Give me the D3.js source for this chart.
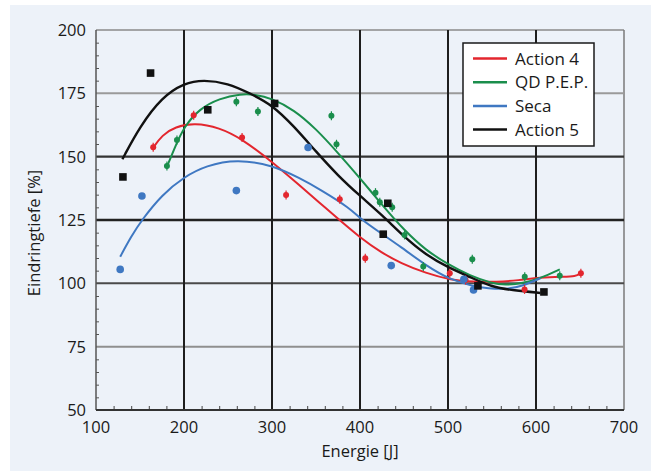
<!DOCTYPE html>
<html>
<head>
<meta charset="utf-8">
<script src="https://cdn.jsdelivr.net/npm/d3@7/dist/d3.min.js"></script>
<style>
  html, body { margin: 0; padding: 0; background: #ffffff; }
  svg { display: block; }
  text { font-family: "Open Sans", "DejaVu Sans", sans-serif; fill: #1a1a1a; }
</style>
</head>
<body>
<svg id="chart" width="651" height="473"></svg>
<script>
// ---------- data ----------
const xTicks = [100, 200, 300, 400, 500, 600, 700];
const yTicks = [50, 75, 100, 125, 150, 175, 200];
const seriesNames = ["Action 4", "QD P.E.P.", "Seca", "Action 5"];

// measured points
const action4X = [165, 211, 266, 316, 377, 406, 502, 520, 587, 651];
const action4Y = [153.7, 166.3, 157.6, 134.9, 133.2, 109.9, 104, 101.3, 97.6, 104];
const qdpepX = [180.6, 192, 259.5, 284, 367.5, 373.3, 417.6, 422.5, 436.6, 450.6, 471.9, 527.6, 587.2, 627];
const qdpepY = [146.3, 156.6, 171.7, 167.8, 166.2, 154.9, 135.8, 132, 130, 119.1, 106.6, 109.5, 102.6, 103];
const secaX = [127.5, 152.2, 259.5, 341, 435.5, 518, 529];
const secaY = [105.5, 134.5, 136.6, 153.6, 107, 101.6, 97.4];
const action5X = [130.6, 162, 227, 303, 426.4, 431.6, 534, 609];
const action5Y = [142, 183, 168.5, 171, 119.4, 131.6, 99, 96.6];

// trend lines (sampled from the reference curves)
const action4FitX = [165, 175, 190, 212, 240, 266, 300, 332, 355, 370, 400, 425, 446, 475, 503, 530, 555, 580, 605, 630, 645, 651];
const action4FitY = [153.5, 158.5, 161.8, 163.3, 161.5, 157, 148, 138.5, 131.5, 127, 118, 112, 108, 104, 101.3, 100.6, 100.5, 101.2, 102.3, 102.6, 102.7, 104];
const qdpepFitX = [180, 190, 200, 218, 240, 265, 280, 300, 325, 350, 375, 400, 425, 450, 475, 500, 525, 550, 565, 585, 605, 627];
const qdpepFitY = [145.5, 154, 161.8, 169, 173, 174.8, 174.6, 173, 168.5, 161, 151.5, 141.5, 131, 121, 113, 107.5, 103, 100, 99.3, 100, 102, 105.5];
const secaFitX = [127.5, 140, 152, 175, 200, 225, 260, 300, 332, 355, 389, 400, 425, 446, 475, 503, 530, 545, 567, 585, 605];
const secaFitY = [110.5, 118.5, 125, 135, 142, 146.5, 149, 146.7, 141.5, 137, 129.6, 125.5, 119.5, 114.5, 107, 101.3, 98.8, 98, 97.6, 99, 102];
const action5FitX = [130, 150, 175, 200, 222, 250, 275, 300, 325, 350, 375, 400, 425, 450, 475, 500, 525, 550, 575, 605];
const action5FitY = [149, 162, 173.5, 179, 180.4, 179, 175, 170.5, 162, 152, 142.5, 134.5, 127, 118.4, 111.2, 106.3, 102.5, 98.5, 97.2, 96.2];

// ---------- drawing ----------
const svg = d3.select("#chart");
const colors = ["#e3262e", "#1a8e4c", "#3f78c2", "#111111"];

svg.append("rect").attr("x", 10).attr("y", 5).attr("width", 641).attr("height", 466).attr("fill", "#edf2f9");

const x = d3.scaleLinear().domain([100, 700]).range([96, 624]);
const y = d3.scaleLinear().domain([50, 200]).range([410, 30]);

// frame top/right
svg.append("line").attr("x1", x(100)).attr("x2", x(700)).attr("y1", y(200)).attr("y2", y(200)).attr("stroke", "#8a8a8a").attr("stroke-width", 1.5);
svg.append("line").attr("x1", x(700)).attr("x2", x(700)).attr("y1", y(200)).attr("y2", y(50)).attr("stroke", "#7a7a7a").attr("stroke-width", 1.5);

// horizontal grid
const hStyle = { 75: ["#8f8f8f", 2], 100: ["#4a4a4a", 2], 125: ["#222222", 2.6], 150: ["#333333", 2.2], 175: ["#9a9a9a", 2] };
svg.append("g").selectAll("line").data(yTicks.filter(v => hStyle[v])).join("line")
  .attr("x1", x(100)).attr("x2", x(700))
  .attr("y1", d => y(d)).attr("y2", d => y(d))
  .attr("stroke", d => hStyle[d][0]).attr("stroke-width", d => hStyle[d][1]);

// vertical grid
svg.append("g").selectAll("line").data(xTicks.filter(v => v > 100 && v < 700)).join("line")
  .attr("x1", d => x(d)).attr("x2", d => x(d))
  .attr("y1", y(200)).attr("y2", y(50))
  .attr("stroke", "#1e1e1e").attr("stroke-width", 2);

// axes with minor ticks
const yMinor = d3.range(55, 200, 5).filter(v => v % 25 !== 0);
const yAxis = svg.append("g").attr("transform", `translate(${x(100)},0)`)
  .call(d3.axisRight(y).tickValues(yMinor).tickSize(3).tickFormat(""));
yAxis.select(".domain").remove();
yAxis.selectAll("line").attr("stroke", "#555");
svg.append("line").attr("x1", x(100)).attr("x2", x(100)).attr("y1", y(200)).attr("y2", y(50)).attr("stroke", "#555").attr("stroke-width", 1.5);

const xMinor = d3.range(120, 700, 20).filter(v => v % 100 !== 0);
const xAxis = svg.append("g").attr("transform", `translate(0,${y(50)})`)
  .call(d3.axisTop(x).tickValues(xMinor).tickSize(4).tickFormat(""));
xAxis.select(".domain").remove();
xAxis.selectAll("line").attr("stroke", "#444");
svg.append("line").attr("x1", x(100)).attr("x2", x(700)).attr("y1", y(50)).attr("y2", y(50)).attr("stroke", "#333").attr("stroke-width", 1.8);

// tick labels
svg.append("g").selectAll("text").data(yTicks).join("text")
  .attr("x", 86).attr("y", d => y(d) + 6).attr("text-anchor", "end")
  .attr("font-size", 16.5).text(d => d);
svg.append("g").selectAll("text").data(xTicks).join("text")
  .attr("x", d => x(d)).attr("y", 433).attr("text-anchor", "middle")
  .attr("font-size", 16.5).text(d => d);

// axis titles
svg.append("text").attr("x", 360).attr("y", 457).attr("text-anchor", "middle").attr("font-size", 16.5).text("Energie [J]");
svg.append("text").attr("transform", "translate(40,233) rotate(-90)").attr("text-anchor", "middle").attr("font-size", 16.5).text("Eindringtiefe [%]");

// trend lines
const fits = [
  [action4FitX, action4FitY], [qdpepFitX, qdpepFitY], [secaFitX, secaFitY], [action5FitX, action5FitY]
];
const line = d3.line().x(d => x(d[0])).y(d => y(d[1])).curve(d3.curveBasis);
fits.forEach((f, i) => {
  const pts = f[0].map((v, k) => [v, f[1][k]]);
  svg.append("path").datum(pts).attr("d", line).attr("fill", "none")
    .attr("stroke", colors[i]).attr("stroke-width", i === 3 ? 2.4 : 2);
});

// points
const pts = [[action4X, action4Y], [qdpepX, qdpepY], [secaX, secaY]];
pts.forEach((p, i) => {
  const data = p[0].map((v, k) => [v, p[1][k]]);
  const g = svg.append("g");
  if (i < 2) {
    g.selectAll("line").data(data).join("line")
      .attr("x1", d => x(d[0])).attr("x2", d => x(d[0]))
      .attr("y1", d => y(d[1]) - 4.5).attr("y2", d => y(d[1]) + 4.5)
      .attr("stroke", colors[i]).attr("stroke-width", 1.2);
  }
  g.selectAll("circle").data(data).join("circle")
    .attr("cx", d => x(d[0])).attr("cy", d => y(d[1]))
    .attr("r", i === 2 ? 3.8 : 3).attr("fill", colors[i]);
});
svg.append("g").selectAll("rect").data(action5X.map((v, k) => [v, action5Y[k]])).join("rect")
  .attr("x", d => x(d[0]) - 3.8).attr("y", d => y(d[1]) - 3.8)
  .attr("width", 7.6).attr("height", 7.6).attr("fill", "#111");

// legend
const lg = svg.append("g");
lg.append("rect").attr("x", 463).attr("y", 43).attr("width", 131).attr("height", 103)
  .attr("fill", "#ffffff").attr("stroke", "#1a1a1a").attr("stroke-width", 1.5);
seriesNames.forEach((name, i) => {
  const cy = 58.5 + i * 23.7;
  lg.append("line").attr("x1", 473).attr("x2", 507).attr("y1", cy).attr("y2", cy)
    .attr("stroke", colors[i]).attr("stroke-width", 2.5);
  lg.append("text").attr("x", 515).attr("y", cy + 6).attr("font-size", 17).text(name);
});
</script>
</body>
</html>
